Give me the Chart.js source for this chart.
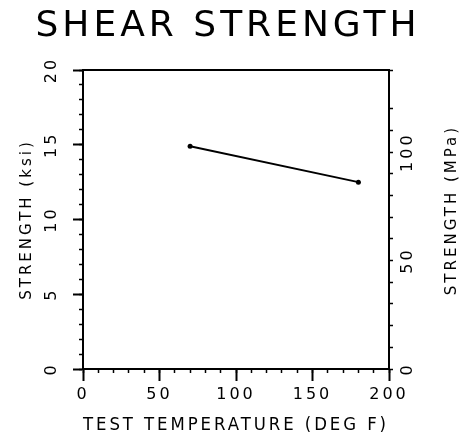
<!DOCTYPE html>
<html>
<head>
<meta charset="utf-8">
<script src="https://cdn.jsdelivr.net/npm/chart.js@4.4.1/dist/chart.umd.min.js"></script>
<style>
  html, body { margin: 0; padding: 0; background: #fff; }
  .chart-container { position: relative; width: 467px; height: 444px; }
</style>
</head>
<body>
<div class="chart-container">
  <canvas id="chart"></canvas>
</div>
<script>
// data
const temperatures = [70, 180];          // deg F
const strengthKsi = [14.9, 12.5];        // ksi
const xTickLabels = [0, 50, 100, 150, 200];
const ksiTickLabels = [0, 5, 10, 15, 20];
const mpaTickLabels = [0, 50, 100];

const chartTitle = "SHEAR STRENGTH";
const rightTitle = "STRENGTH (MPa)";
const KSI_TO_MPA = 6.895;

const FONT = "'DejaVu Sans', sans-serif";
Chart.defaults.font.family = FONT;
Chart.defaults.color = "#000";

// plotter-style wide lettering, plus the title and right axis title
const plotterText = {
    id: "plotterText",
    beforeDraw(chart) {
        chart.ctx.letterSpacing = "3px";
    },
    afterDraw(chart) {
        const ctx = chart.ctx;
        ctx.save();
        ctx.fillStyle = "#000";
        ctx.letterSpacing = "4px";
        ctx.font = "36px " + FONT;
        ctx.textAlign = "center";
        ctx.textBaseline = "middle";
        ctx.fillText(chartTitle, 228, 27);

        ctx.letterSpacing = "3px";
        ctx.font = "15px " + FONT;
        ctx.translate(452, 210);
        ctx.rotate(-Math.PI / 2);
        ctx.fillText(rightTitle, 0, 0);
        ctx.restore();
    },
};

const ctx = document.getElementById("chart").getContext("2d");
new Chart(ctx, {
    type: "line",
    data: {
        datasets: [
            {
                data: temperatures.map((t, i) => ({ x: t, y: strengthKsi[i] })),
                borderColor: "#000",
                backgroundColor: "#000",
                borderWidth: 1.8,
                pointRadius: 2.5,
                pointBorderWidth: 0,
                tension: 0,
            },
        ],
    },
    options: {
        responsive: true,
        maintainAspectRatio: false,
        animation: false,
        layout: { padding: { top: 70, left: 0, right: 0, bottom: 0 } },
        plugins: {
            legend: { display: false },
            tooltip: { enabled: false },
        },
        scales: {
            x: {
                type: "linear",
                position: "bottom",
                min: 0,
                max: 200,
                ticks: {
                    stepSize: 50,
                    autoSkip: false,
                    padding: 4,
                    font: { size: 16 },
                    callback: (v) => (xTickLabels.includes(v) ? String(v) : ""),
                },
                grid: { drawOnChartArea: false, tickLength: 12, color: "#000", tickWidth: 2 },
                border: { color: "#000", width: 2 },
                title: {
                    display: true,
                    text: "TEST TEMPERATURE (DEG F)",
                    font: { size: 17 },
                    padding: { top: 0, bottom: 8 },
                },
                afterFit: (s) => { s.height = 75; },
            },
            xMinor: {
                type: "linear",
                axis: "x",
                position: { y: 0 },
                min: 0,
                max: 200,
                ticks: { stepSize: 10, display: false },
                grid: { drawOnChartArea: false, tickLength: 4, color: "#000", tickWidth: 1.5 },
                border: { display: false },
            },
            xTop: {
                type: "linear",
                axis: "x",
                position: "top",
                min: 0,
                max: 200,
                ticks: { display: false },
                grid: { drawOnChartArea: false, drawTicks: false },
                border: { color: "#000", width: 2 },
                afterFit: (s) => { s.height = 0; },
            },
            y: {
                type: "linear",
                position: "left",
                min: 0,
                max: 20,
                ticks: {
                    stepSize: 5,
                    autoSkip: false,
                    minRotation: 90,
                    maxRotation: 90,
                    crossAlign: "center",
                    padding: 11,
                    font: { size: 16 },
                    callback: (v) => (ksiTickLabels.includes(v) ? String(v) : ""),
                },
                grid: { drawOnChartArea: false, tickLength: 10, color: "#000", tickWidth: 2 },
                border: { color: "#000", width: 2 },
                title: {
                    display: true,
                    text: "STRENGTH (ksi)",
                    font: { size: 15 },
                    padding: { top: 18, bottom: 0 },
                },
                afterFit: (s) => { s.width = 83; },
            },
            yMinor: {
                type: "linear",
                axis: "y",
                position: { x: 0 },
                min: 0,
                max: 20,
                ticks: { stepSize: 1, display: false },
                grid: { drawOnChartArea: false, tickLength: 4, color: "#000", tickWidth: 1.5 },
                border: { display: false },
            },
            y2: {
                type: "linear",
                position: "right",
                min: 0,
                max: 20 * KSI_TO_MPA,
                ticks: {
                    stepSize: 10,
                    autoSkip: false,
                    minRotation: 90,
                    maxRotation: 90,
                    crossAlign: "center",
                    padding: 0,
                    font: { size: 16 },
                    callback: (v) => (mpaTickLabels.includes(v) ? String(v) : ""),
                },
                grid: { drawOnChartArea: false, tickLength: 4, color: "#000", tickWidth: 1.5 },
                border: { color: "#000", width: 2 },
                afterFit: (s) => { s.width = 78; },
            },
        },
    },
    plugins: [plotterText],
});
</script>
</body>
</html>
